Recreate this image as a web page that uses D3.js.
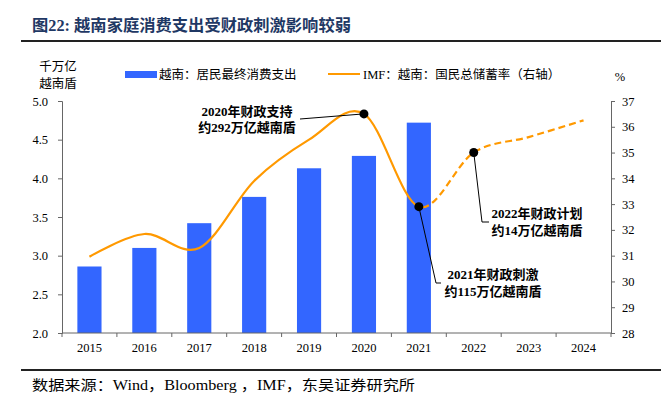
<!DOCTYPE html>
<html><head><meta charset="utf-8">
<script src="https://cdn.jsdelivr.net/npm/d3@7/dist/d3.min.js"></script>
<style>
html,body{margin:0;padding:0;background:#fff;}
svg{display:block;}
text{font-family:"Liberation Serif","Noto Sans CJK SC",serif;}
</style></head>
<body>
<svg id="chart" width="667" height="393"></svg>
<script>
const years = ["2015","2016","2017","2018","2019","2020","2021","2022","2023","2024"];
const consumption = [2.86, 3.10, 3.42, 3.76, 4.13, 4.29, 4.72, null, null, null];
const savingRate = [30.96, 31.84, 31.30, 33.90, 35.50, 36.50, 32.90, 35.00, 35.60, 36.25];
const leftTicks = [2.0, 2.5, 3.0, 3.5, 4.0, 4.5, 5.0];
const rightTicks = [28, 29, 30, 31, 32, 33, 34, 35, 36, 37];
const annotations = [
  {year:"2020", lines:["2020年财政支持","约292万亿越南盾"]},
  {year:"2021", lines:["2021年财政刺激","约115万亿越南盾"]},
  {year:"2022", lines:["2022年财政计划","约14万亿越南盾"]}
];

const svg = d3.select("#chart");
const L = 62, R = 611, T = 101, B = 333;
const x = d3.scaleBand().domain(years).range([L, R]).padding(0);
const yL = d3.scaleLinear().domain([2, 5]).range([B, T]);
const yR = d3.scaleLinear().domain([28, 37]).range([B, T]);
const bw = x.bandwidth();
const cx = d => x(d) + bw / 2;

// title
svg.append("text").attr("x", 32).attr("y", 31)
  .attr("font-size", 16).attr("font-weight", "bold").attr("fill", "#1f3864")
  .attr("textLength", 319).attr("lengthAdjust", "spacingAndGlyphs")
  .text("图22:  越南家庭消费支出受财政刺激影响较弱");
svg.append("line").attr("x1", 21).attr("x2", 661).attr("y1", 41).attr("y2", 41)
  .attr("stroke", "#222").attr("stroke-width", 2);

// unit labels
svg.append("text").attr("x", 58).attr("y", 71).attr("text-anchor", "middle")
  .attr("font-size", 12.5).text("千万亿");
svg.append("text").attr("x", 58).attr("y", 88).attr("text-anchor", "middle")
  .attr("font-size", 12.5).text("越南盾");
svg.append("text").attr("x", 620).attr("y", 81).attr("text-anchor", "middle")
  .attr("font-size", 12.5).text("%");

// legend
svg.append("rect").attr("x", 125).attr("y", 71).attr("width", 32).attr("height", 7).attr("fill", "#3366ff");
svg.append("text").attr("x", 159).attr("y", 78.5).attr("font-size", 12.5).text("越南：居民最终消费支出");
svg.append("line").attr("x1", 328).attr("x2", 360).attr("y1", 74).attr("y2", 74)
  .attr("stroke", "#ff9900").attr("stroke-width", 2);
svg.append("text").attr("x", 363).attr("y", 78.5).attr("font-size", 12.5).text("IMF：越南：国民总储蓄率（右轴）");

// bars
svg.append("g").selectAll("rect")
  .data(years.map((y, i) => ({y, v: consumption[i]})).filter(d => d.v != null))
  .join("rect")
  .attr("x", d => x(d.y) + bw * 0.28)
  .attr("width", bw * 0.44)
  .attr("y", d => yL(d.v))
  .attr("height", d => B - yL(d.v))
  .attr("fill", "#3366ff");

// axes
const axisColor = "#666";
const gL = svg.append("g").attr("transform", `translate(${L},0)`)
  .call(d3.axisLeft(yL).tickValues(leftTicks).tickFormat(d3.format(".1f")).tickSizeInner(4).tickSizeOuter(4).tickPadding(10));
const gR = svg.append("g").attr("transform", `translate(${R},0)`)
  .call(d3.axisRight(yR).tickValues(rightTicks).tickSizeInner(4).tickSizeOuter(4).tickPadding(7));
const gB = svg.append("g").attr("transform", `translate(0,${B})`)
  .call(d3.axisBottom(x).tickSize(0).tickPadding(10));
gB.select(".domain").attr("d", `M${L},0H${R}`);
gB.selectAll(".tickmark").data(years.concat(["end"])).join("line")
  .attr("class", "tickmark")
  .attr("x1", (d, i) => i < years.length ? x(d) : R)
  .attr("x2", (d, i) => i < years.length ? x(d) : R)
  .attr("y1", 0).attr("y2", 4).attr("stroke", axisColor);
[gL, gR, gB].forEach(g => {
  g.selectAll(".domain").attr("stroke", axisColor);
  g.selectAll(".tick line").attr("stroke", axisColor);
  g.selectAll("text").attr("font-size", 12.5).attr("fill", "#000")
    .attr("font-family", "'Liberation Serif',serif");
});

// line
const pts = years.map((y, i) => [cx(y), yR(savingRate[i])]);
const lineGen = d3.line().curve(d3.curveCardinal.tension(0));
const splitX = cx("2021");
const defs = svg.append("defs");
defs.append("clipPath").attr("id", "solidClip").append("rect")
  .attr("x", 0).attr("y", 0).attr("width", splitX).attr("height", 393);
defs.append("clipPath").attr("id", "dashClip").append("rect")
  .attr("x", splitX).attr("y", 0).attr("width", 667 - splitX).attr("height", 393);
svg.append("path").attr("d", lineGen(pts)).attr("fill", "none")
  .attr("stroke", "#ff9900").attr("stroke-width", 2.2).attr("clip-path", "url(#solidClip)");
svg.append("path").attr("d", lineGen(pts)).attr("fill", "none")
  .attr("stroke", "#ff9900").attr("stroke-width", 2.2).attr("stroke-dasharray", "7,4")
  .attr("clip-path", "url(#dashClip)");

// annotations
const ann = svg.append("g");
const ptOf = yr => [cx(yr), yR(savingRate[years.indexOf(yr)])];
const p20 = ptOf("2020"), p21 = ptOf("2021"), p22 = ptOf("2022");
ann.append("path").attr("d", `M300,119L${p20[0]},${p20[1]}`).attr("stroke", "#000").attr("fill", "none");
ann.append("path").attr("d", `M${p21[0]},${p21[1]}L436,283H441`).attr("stroke", "#000").attr("fill", "none");
ann.append("path").attr("d", `M${p22[0]},${p22[1]}L482,222H489`).attr("stroke", "#000").attr("fill", "none");
[p20, p21, p22].forEach(p => ann.append("circle").attr("cx", p[0]).attr("cy", p[1]).attr("r", 4.5).attr("fill", "#000"));
const annPos = {"2020": [247, 116, 132], "2021": [493, 279, 296], "2022": [537, 218, 235]};
annotations.forEach(a => {
  const [tx, y1, y2] = annPos[a.year];
  ann.append("text").attr("x", tx).attr("y", y1).attr("text-anchor", "middle")
    .attr("font-size", 13).attr("font-weight", "bold").text(a.lines[0]);
  ann.append("text").attr("x", tx).attr("y", y2).attr("text-anchor", "middle")
    .attr("font-size", 13).attr("font-weight", "bold").text(a.lines[1]);
});

// source
svg.append("line").attr("x1", 21).attr("x2", 661).attr("y1", 370).attr("y2", 370)
  .attr("stroke", "#222").attr("stroke-width", 2);
svg.append("text").attr("x", 32).attr("y", 390).attr("font-size", 14)
  .attr("textLength", 383).attr("lengthAdjust", "spacingAndGlyphs")
  .text("数据来源：Wind，Bloomberg ，IMF，东吴证券研究所");
</script>
</body></html>
